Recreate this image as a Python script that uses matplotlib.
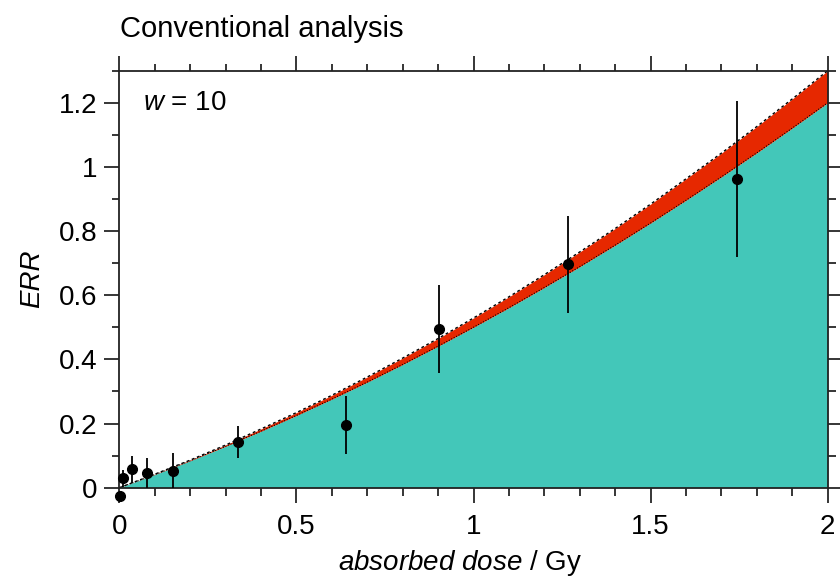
import numpy as np
import matplotlib
matplotlib.use("Agg")
import matplotlib.pyplot as plt
from matplotlib.ticker import MultipleLocator

plt.rcParams['font.family'] = ['Liberation Sans', 'DejaVu Sans']
plt.rcParams['mathtext.fontset'] = 'custom'
plt.rcParams['mathtext.it'] = 'Liberation Sans:italic'
plt.rcParams['mathtext.rm'] = 'Liberation Sans'

# observed data
dose = [0.002, 0.010, 0.037, 0.077, 0.151, 0.334, 0.640, 0.903, 1.268, 1.745]
err_vals = [-0.025, 0.029, 0.058, 0.045, 0.053, 0.142, 0.196, 0.495, 0.696, 0.961]
err_unc = [0.015, 0.027, 0.042, 0.047, 0.055, 0.050, 0.090, 0.138, 0.151, 0.243]

# fitted curves
curve_dose = [0.0, 0.1, 0.2, 0.3, 0.4, 0.5, 0.6, 0.7, 0.8, 0.9, 1.0,
              1.1, 1.2, 1.3, 1.4, 1.5, 1.6, 1.7, 1.8, 1.9, 2.0]
lower_curve = [0.0, 0.041, 0.084, 0.129, 0.176, 0.225, 0.276, 0.329, 0.384, 0.441, 0.500,
               0.561, 0.624, 0.689, 0.756, 0.825, 0.896, 0.969, 1.044, 1.121, 1.200]
upper_curve = [0.0, 0.042, 0.086, 0.133, 0.183, 0.234, 0.288, 0.345, 0.404, 0.465, 0.529,
               0.595, 0.664, 0.735, 0.808, 0.884, 0.963, 1.043, 1.126, 1.212, 1.300]

teal = '#43C7B9'
red = '#E62800'

fig = plt.figure(figsize=(8.4, 5.81), dpi=100)
ax = fig.add_axes([119.3/840, 1-487.7/581, (827.7-119.3)/840, (487.7-70.7)/581])

ax.fill_between(curve_dose, 0, lower_curve, color=teal, lw=0, zorder=1)
ax.fill_between(curve_dose, lower_curve, upper_curve, color=red, lw=0, zorder=1)
ax.plot(curve_dose, upper_curve, color='black', lw=1.0, ls=(0, (2, 2)), zorder=2)
ax.plot(curve_dose, lower_curve, color='black', lw=0.8, ls=(0, (1, 1.5)), zorder=2)

ax.errorbar(dose, err_vals, yerr=err_unc, fmt='none', ecolor='black', elinewidth=1.3, capsize=0, zorder=3)
ax.plot(dose, err_vals, 'o', color='black', ms=7, zorder=4, clip_on=False)

ax.set_xlim(0, 2)
ax.set_ylim(0, 1.3)

ax.xaxis.set_major_locator(MultipleLocator(0.5))
ax.xaxis.set_minor_locator(MultipleLocator(0.1))
ax.yaxis.set_major_locator(MultipleLocator(0.2))
ax.yaxis.set_minor_locator(MultipleLocator(0.1))
ax.set_xticks([0, 0.5, 1, 1.5, 2])
ax.set_xticklabels(['0', '0.5', '1', '1.5', '2'])
ax.set_yticks([0, 0.2, 0.4, 0.6, 0.8, 1.0, 1.2])
ax.set_yticklabels(['0', '0.2', '0.4', '0.6', '0.8', '1', '1.2'])

ax.tick_params(which='both', direction='out', top=True, right=True, width=1.1, colors='black',
               labelsize=20)
ax.tick_params(which='major', length=10.8)
ax.tick_params(which='minor', length=5.4)
ax.tick_params(axis='x', which='major', pad=8)
ax.tick_params(axis='y', which='major', pad=5)
for s in ax.spines.values():
    s.set_linewidth(1.3)
    s.set_color('#222222')

ax.text(0.067, 1.2, r'$w$ = 10', fontsize=20, va='center', ha='left')

ax.set_ylabel('ERR', fontsize=20, style='italic', labelpad=10)
fig.text(460/840, (581-570)/581, r'$absorbed\ dose$ / Gy', fontsize=20, ha='center', va='baseline')
fig.text(120/840, 1-37/581, 'Conventional analysis', fontsize=21, ha='left', va='baseline')

fig.savefig('out.png', dpi=100)
